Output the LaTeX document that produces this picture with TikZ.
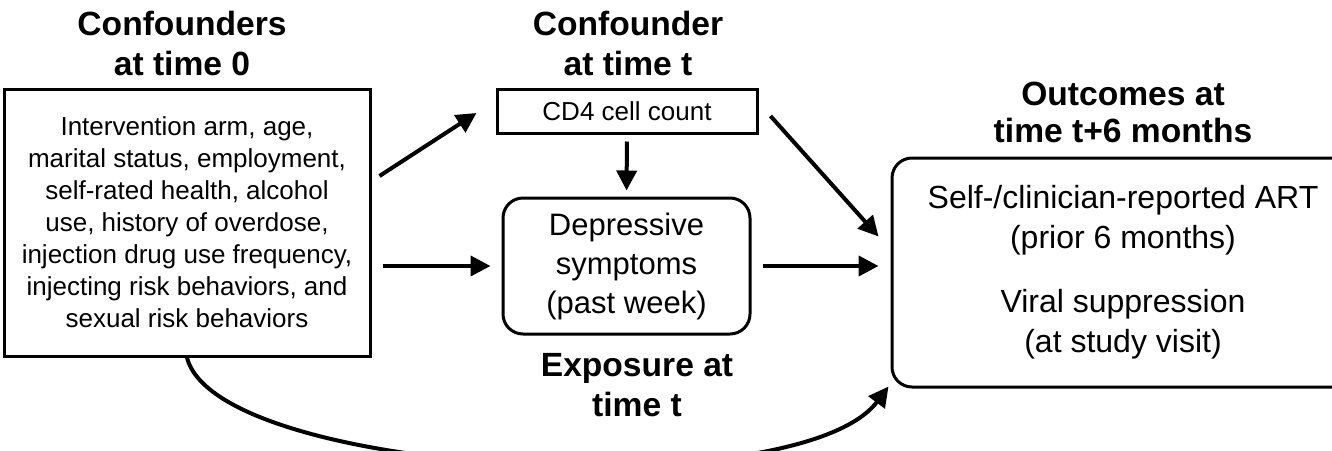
\documentclass[tikz,border=0pt]{standalone}
\usepackage{fontspec}
\setmainfont{Liberation Sans}
\usetikzlibrary{arrows.meta, positioning}

\tikzset{
  box/.style={draw, line width=1.5pt, align=center, inner sep=0pt},
  rbox/.style={box, rounded corners=10pt},
  ttl/.style={align=center, font=\fontsize{16.8}{20}\selectfont\bfseries},
  arr/.style={line width=2pt, -{Triangle[length=10pt,width=10pt]}}
}

\begin{document}
\begin{tikzpicture}[x=0.5pt, y=-0.5pt]
\clip (0,0) rectangle (1332,450);

% boxes
\node[box, minimum width=183pt, minimum height=133.5pt,
      font=\fontsize{13}{16}\selectfont] (conf) at (187,222.5) {
  Intervention arm, age,\\ marital status, employment,\\ self-rated health, alcohol\\
  use, history of overdose,\\ injection drug use frequency,\\
  injecting risk behaviors, and\\ sexual risk behaviors};
\node[box, minimum width=130pt, minimum height=22pt,
      font=\fontsize{13}{16}\selectfont] (cd4) at (627,111) {CD4 cell count};
\node[rbox, minimum width=123.5pt, minimum height=68pt,
      font=\fontsize{15.5}{19.5}\selectfont] (dep) at (626.5,266) {
  Depressive\\ symptoms\\ (past week)};
\node[rbox, minimum width=231pt, minimum height=114.5pt,
      font=\fontsize{16}{20}\selectfont] (outc) at (1123,272.5) {
  Self-/clinician-reported ART\\ (prior 6 months)\\[12pt]
  Viral suppression\\ (at study visit)};

% titles
\node[ttl] (confttl) at (182,43) {Confounders\\ at time 0};
\node[ttl] (cd4ttl) at (628,43) {Confounder\\ at time t};
\node[ttl, font=\fontsize{16.8}{18.5}\selectfont\bfseries] (outcttl) at (1123,112) {Outcomes at\\ time t+6 months};
\node[ttl] (depttl) at (637,385) {Exposure at\\ time t};

% arrows
\draw[arr] ([shift={(8,-46.5)}]conf.east) -- ([shift={(-19,2)}]cd4.west);
\draw[arr, shorten <=5.5pt, shorten >=5.5pt] (conf.east |- dep.west) -- (dep.west);
\draw[arr, shorten <=3.5pt, shorten >=3pt] (cd4.south) -- (dep.north);
\draw[arr, shorten <=5.5pt, shorten >=6pt] (dep.east) -- (dep.east -| outc.west);
\draw[arr] ([shift={(12,5)}]cd4.east) -- ([shift={(-12,-36)}]outc.west);
\draw[arr] (conf.south) .. controls +(30,120) and +(-90,120) .. ([shift={(-2,-2)}]outc.south west);
\end{tikzpicture}
\end{document}
